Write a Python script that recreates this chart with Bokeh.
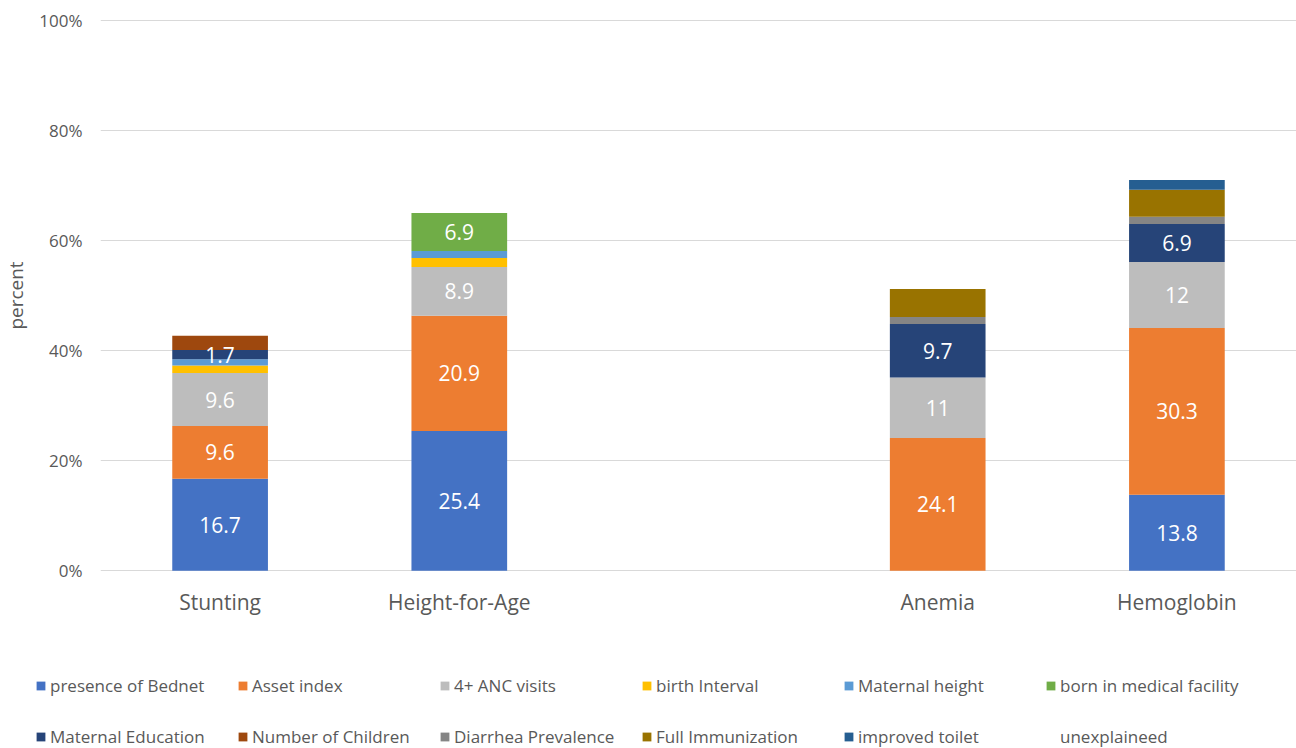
from bokeh.plotting import figure
from bokeh.models import ColumnDataSource, LabelSet, FactorRange, Range1d, Legend, LegendItem, CustomJSTickFormatter
from bokeh.layouts import column
from bokeh.embed import file_html
from bokeh.resources import INLINE
from bokeh.core.properties import value

categories = ["Stunting", "Height-for-Age", " ", "Anemia", "Hemoglobin"]
bednet = [16.7, 25.4, 0, 0, 13.8]
asset = [9.6, 20.9, 0, 24.1, 30.3]
anc = [9.6, 8.9, 0, 11, 12]
birth_interval = [1.4, 1.6, 0, 0, 0]
maternal_height = [1.1, 1.3, 0, 0, 0]
born_medical = [0, 6.9, 0, 0, 0]
maternal_edu = [1.7, 0, 0, 9.7, 6.9]
num_children = [2.6, 0, 0, 0, 0]
diarrhea = [0, 0, 0, 1.3, 1.3]
full_imm = [0, 0, 0, 5.1, 4.9]
toilet = [0, 0, 0, 0, 1.8]
unexplained = [57.3, 35.0, 0, 48.8, 29.0]
y_ticks = [0, 20, 40, 60, 80, 100]

series_names = ["presence of Bednet", "Asset index", "4+ ANC visits", "birth Interval",
                "Maternal height", "born in medical facility", "Maternal Education",
                "Number of Children", "Diarrhea Prevalence", "Full Immunization",
                "improved toilet", "unexplaineed"]
series_values = [bednet, asset, anc, birth_interval, maternal_height, born_medical,
                 maternal_edu, num_children, diarrhea, full_imm, toilet, unexplained]
colors = ["#4472C4", "#ED7D31", "#BDBDBD", "#FFC000", "#5B9BD5", "#70AD47",
          "#264478", "#9E480E", "#858585", "#997300", "#255E91", "#FFFFFF"]
alphas = [1] * 11 + [0]
labelled = ["presence of Bednet", "Asset index", "4+ ANC visits", "born in medical facility",
            "Maternal Education"]

keys = [f"s{i}" for i in range(len(series_names))]
data = {"cat": categories}
for k, v in zip(keys, series_values):
    data[k] = v
source = ColumnDataSource(data)

TEXT = "#595959"
FONT = "Open Sans"

p = figure(x_range=FactorRange(*categories, range_padding=0), y_range=Range1d(-0.15, 100.15),
           width=1296, height=650, output_backend="svg", toolbar_location=None,
           min_border_left=100, min_border_right=0, min_border_top=19, min_border_bottom=79)
p.outline_line_color = None
p.frame_align = False

p.vbar_stack(keys, x="cat", width=0.4, source=source, color=colors,
             fill_alpha=alphas, line_alpha=0)

lx, ly, lt = [], [], []
for ci, c in enumerate(categories):
    bottom = 0.0
    for name, vals in zip(series_names, series_values):
        v = vals[ci]
        if v > 0 and name in labelled:
            lx.append(c)
            ly.append(bottom + v / 2)
            lt.append(f"{v:g}")
        bottom += v
lsrc = ColumnDataSource(dict(x=lx, y=ly, t=lt))
p.add_layout(LabelSet(x="x", y="y", text="t", source=lsrc, text_color="white",
                      text_font=value(FONT), text_font_size="21px",
                      text_align="center", text_baseline="middle"))

p.yaxis.ticker = y_ticks
p.yaxis.formatter = CustomJSTickFormatter(code="return tick + '%'")
p.yaxis.axis_line_color = None
p.yaxis.major_tick_line_color = None
p.yaxis.minor_tick_line_color = None
p.yaxis.major_label_text_font = FONT
p.yaxis.major_label_text_font_size = "17px"
p.yaxis.major_label_text_color = TEXT
p.yaxis.major_label_standoff = 12
p.yaxis.axis_label = "percent"
p.yaxis.axis_label_text_font = FONT
p.yaxis.axis_label_text_font_size = "19px"
p.yaxis.axis_label_text_font_style = "normal"
p.yaxis.axis_label_text_color = TEXT
p.yaxis.axis_label_standoff = 7

p.xaxis.axis_line_color = None
p.xaxis.major_tick_line_color = None
p.xaxis.minor_tick_line_color = None
p.xaxis.major_label_text_font = FONT
p.xaxis.major_label_text_font_size = "21px"
p.xaxis.major_label_text_color = TEXT
p.xaxis.major_label_standoff = 10

p.xgrid.grid_line_color = None
p.ygrid.grid_line_color = "#D9D9D9"
p.ygrid.grid_line_width = 1

# legend figure (renderers hidden, only legend shown)
lf = figure(x_range=FactorRange(*categories), y_range=Range1d(0, 100),
            width=1296, height=98, output_backend="svg", toolbar_location=None,
            min_border=0)
lf.frame_align = False
lf.outline_line_color = None
lf.axis.visible = False
lf.grid.visible = False
rends = lf.vbar_stack(keys, x="cat", width=0.4, source=source, color=colors,
                      fill_alpha=alphas, line_alpha=0)
for r in rends:
    r.visible = False

def make_legend(idx, y):
    leg = Legend(items=[LegendItem(label=series_names[i], renderers=[rends[i]]) for i in idx],
                 orientation="horizontal", location=(35, y), padding=0, margin=0, spacing=2,
                 glyph_width=11, glyph_height=11, label_standoff=4, label_width=185,
                 label_height=11, label_text_font=FONT, label_text_font_size="17px",
                 label_text_color=TEXT, background_fill_alpha=0, border_line_alpha=0,
                 inactive_fill_alpha=0, click_policy="none")
    lf.add_layout(leg, "center")

make_legend(range(0, 6), 51)
make_legend(range(6, 12), 0)

open("out.html", "w").write(file_html(column(p, lf), INLINE))
